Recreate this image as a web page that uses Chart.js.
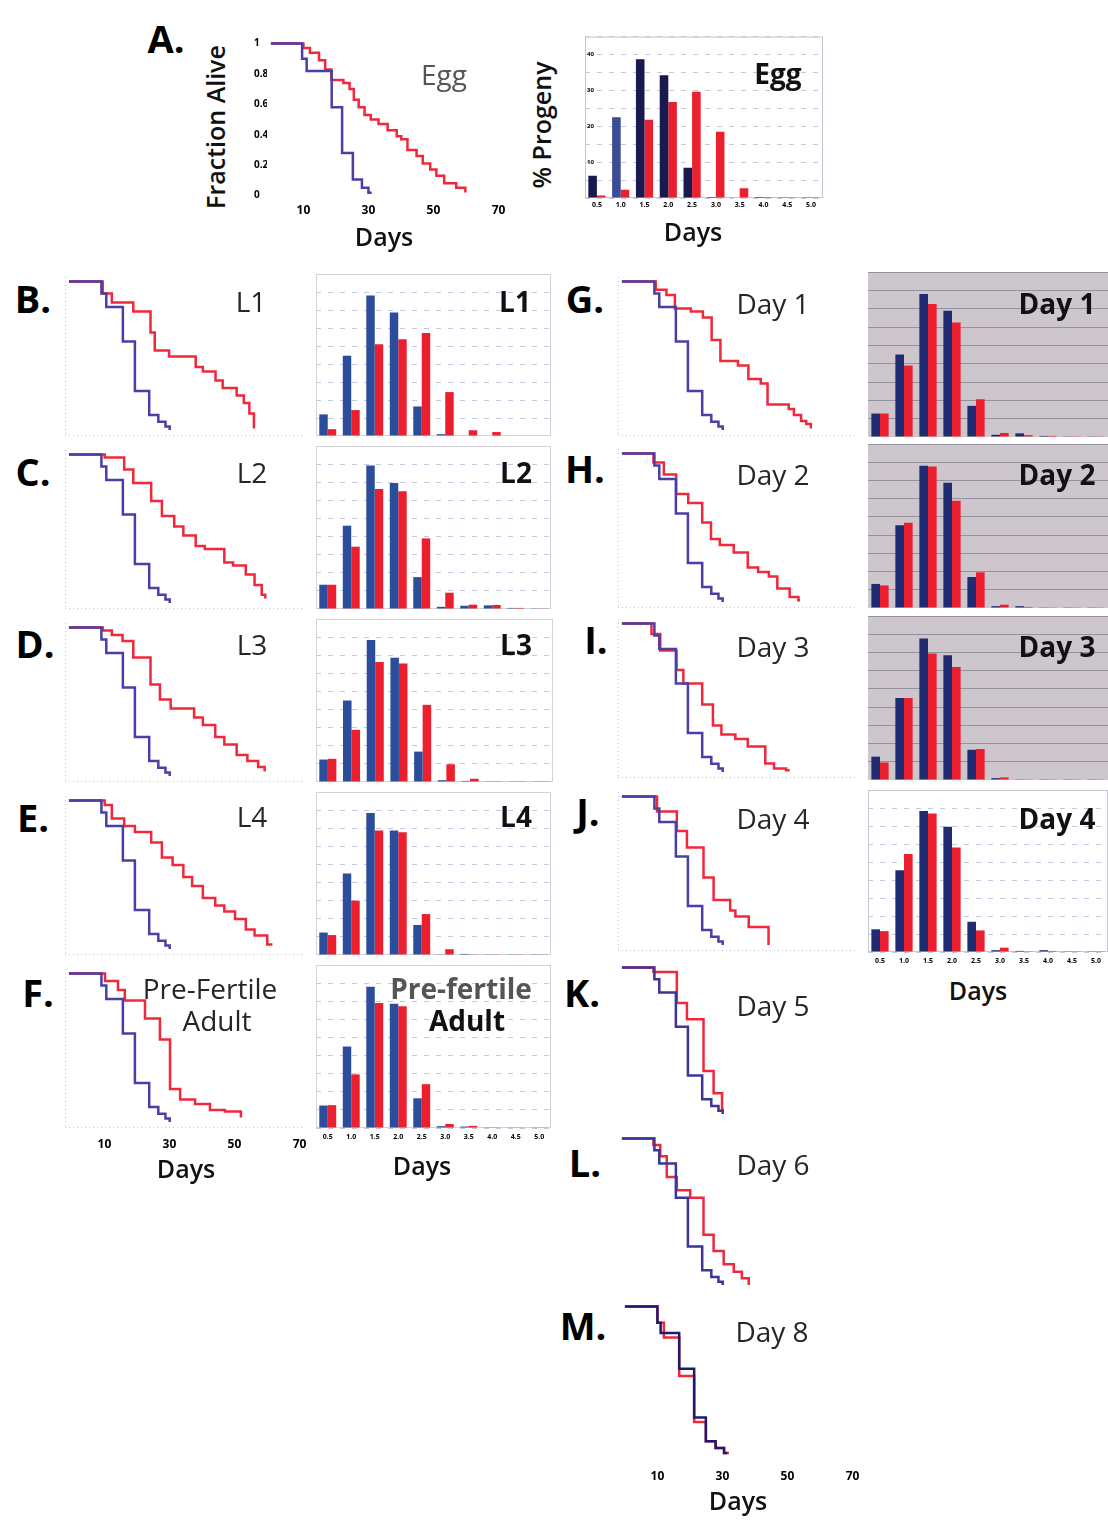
<!DOCTYPE html>
<html>
<head>
<meta charset="utf-8">
<title>Supervivencia y progenie</title>
<script src="https://cdn.jsdelivr.net/npm/chart.js@4.4.1/dist/chart.umd.min.js"></script>
<style>
  body { margin: 0; background: #fff; }
  #fig { position: relative; width: 1108px; height: 1524px; overflow: hidden; font-family: 'Open Sans', sans-serif; }
  #fig canvas { position: absolute; }
  .txt { position: absolute; white-space: nowrap; line-height: 1; transform: translate(-50%, -50%); }
  .letra { font-size: 38px; font-weight: 700; color: #000; }
  .tit { font-size: 28px; color: #262626; }
  .titb { font-size: 28px; font-weight: 700; color: #111; }
  .gris { color: #555; }
  .eje { font-size: 25px; font-weight: 600; color: #111; }
  .rot { transform: translate(-50%, -50%) rotate(-90deg); }
</style>
</head>
<body>
<div id="fig"></div>
<script>
// ---- datos ----
var cats = ['0.5', '1.0', '1.5', '2.0', '2.5', '3.0', '3.5', '4.0', '4.5', '5.0'];
var dayTicks = [10, 30, 50, 70];
var fracTicks = [0, 0.2, 0.4, 0.6, 0.8, 1];
var progenyTicks = [10, 20, 30, 40];

// curvas de supervivencia: dia de cada escalon y fraccion viva despues de el
var eggBlueDays = [0, 9.6, 11, 18.7, 21.9, 25.2, 28, 30, 31];
var eggBlueFrac = [1, 0.9, 0.82, 0.58, 0.28, 0.105, 0.05, 0.018, 0.018];
var eggRedDays = [0, 10, 12, 14.8, 16.7, 18.6, 22.3, 24.2, 25.5, 27, 28.8, 30.7, 33.1, 35.9, 38.7, 40.1, 42, 44.8, 46.7, 49, 50.9, 53.3, 57, 59.8];
var eggRedFrac = [1, 0.97, 0.94, 0.89, 0.83, 0.76, 0.74, 0.7, 0.63, 0.58, 0.53, 0.5, 0.47, 0.43, 0.39, 0.37, 0.3, 0.26, 0.21, 0.17, 0.13, 0.08, 0.05, 0.02];

var ctlDays = [0, 10, 11.5, 16.6, 20.3, 24.7, 27.5, 29.7, 31];
var ctlFrac = [1, 0.92, 0.83, 0.6, 0.27, 0.11, 0.065, 0.033, 0.01];

var l1RedDays = [0, 10.4, 13.2, 19.8, 25.1, 26.4, 30.8, 39, 41.2, 45.1, 47.3, 51.6, 53.8, 55.5, 56.9];
var l1RedFrac = [1, 0.92, 0.86, 0.8, 0.66, 0.54, 0.5, 0.43, 0.4, 0.34, 0.29, 0.24, 0.19, 0.12, 0.02];
var l2RedDays = [0, 11, 17, 19.8, 25.3, 28.6, 32.4, 35.2, 39, 41.8, 47.8, 50.5, 54.4, 57.1, 59.3, 60.4];
var l2RedFrac = [1, 0.98, 0.9, 0.81, 0.69, 0.59, 0.52, 0.46, 0.39, 0.37, 0.28, 0.26, 0.2, 0.13, 0.065, 0.04];
var l3RedDays = [0, 10.4, 13.2, 16.5, 19.8, 25.1, 28, 31.3, 38.5, 41.2, 45, 47.8, 51.6, 54.9, 58.2, 60.2];
var l3RedFrac = [1, 0.98, 0.95, 0.91, 0.8, 0.62, 0.52, 0.46, 0.4, 0.35, 0.27, 0.22, 0.15, 0.11, 0.07, 0.04];
var l4RedDays = [0, 11, 13.2, 17, 20.3, 25.3, 28.6, 31.9, 35.2, 37.9, 41.2, 45, 47.8, 51.1, 54.4, 57.1, 61, 62.6];
var l4RedFrac = [1, 0.97, 0.88, 0.83, 0.79, 0.72, 0.62, 0.57, 0.49, 0.43, 0.35, 0.3, 0.26, 0.21, 0.14, 0.1, 0.04, 0.04];
var pfRedDays = [0, 11.1, 15.1, 17.2, 23.4, 28, 31.1, 34.2, 38.8, 43.4, 48, 52.9];
var pfRedFrac = [1, 0.95, 0.89, 0.82, 0.7, 0.56, 0.23, 0.16, 0.13, 0.09, 0.08, 0.04];

var d1RedDays = [0, 10.4, 13.7, 16.3, 21.2, 24.9, 27.6, 30.3, 35.7, 38.9, 42.7, 44.8, 51.3, 52.9, 55.1, 56.7, 58.1];
var d1RedFrac = [1, 0.945, 0.91, 0.82, 0.8, 0.76, 0.61, 0.47, 0.44, 0.35, 0.32, 0.18, 0.15, 0.11, 0.07, 0.05, 0.02];
var d2RedDays = [0, 9.7, 12.9, 16.7, 20.4, 24.7, 27.4, 30.1, 34.4, 38.7, 41.9, 45.2, 47.8, 51.6, 54.3, 54.8];
var d2RedFrac = [1, 0.94, 0.86, 0.73, 0.67, 0.54, 0.43, 0.39, 0.34, 0.24, 0.21, 0.18, 0.1, 0.044, 0.022, 0.022];
var d3RedDays = [0, 9.1, 11.8, 16.8, 18.9, 24.7, 28, 30.6, 34.9, 38.7, 44.1, 46.8, 50.5, 51.6];
var d3RedFrac = [1, 0.93, 0.82, 0.69, 0.6, 0.46, 0.32, 0.26, 0.23, 0.18, 0.066, 0.033, 0.022, 0.022];
var d4RedDays = [0, 10.8, 16.9, 20, 25.1, 28.2, 33.3, 34.9, 39, 45.1];
var d4RedFrac = [1, 0.9, 0.77, 0.66, 0.46, 0.31, 0.24, 0.2, 0.13, 0.01];
var d5RedDays = [0, 9.7, 16.9, 20, 25.1, 28.2, 30.8, 31.3];
var d5RedFrac = [1, 0.97, 0.76, 0.65, 0.3, 0.15, 0.045, 0.045];
var d6RedDays = [0, 9.7, 11.8, 13.8, 16.9, 21, 25.1, 28.2, 31.3, 34.4, 36.9, 39];
var d6RedFrac = [1, 0.955, 0.88, 0.74, 0.65, 0.6, 0.35, 0.24, 0.15, 0.1, 0.056, 0.011];
var d8BlueDays = [0, 10, 11, 16.7, 21.3, 24.9, 27.9, 30.5, 31.5];
var d8BlueFrac = [1, 0.89, 0.82, 0.58, 0.25, 0.09, 0.045, 0.01, 0.01];
var d8RedDays = [0, 10, 12, 16.7, 21.3, 24.9, 27.9, 30.5, 32];
var d8RedFrac = [1, 0.89, 0.79, 0.53, 0.22, 0.09, 0.045, 0.01, 0.01];

// % progenie por dia de puesta
var eggBlueBars = [6.2, 22.5, 38.7, 34.2, 8.4, 0.3, 0, 0.3, 0.1, 0.1];
var eggRedBars = [0.7, 2.3, 21.8, 26.8, 29.6, 18.5, 2.7, 0.3, 0.1, 0.1];
var l1BlueBars = [6.0, 22.3, 39, 34.3, 8.2, 0.5, 0, 0, 0, 0];
var l1RedBars = [1.9, 7.2, 25.5, 26.9, 28.6, 12.2, 1.6, 1.1, 0, 0];
var l2BlueBars = [6.7, 23, 39.6, 34.8, 8.8, 0.6, 0.9, 1, 0.3, 0.2];
var l2RedBars = [6.7, 17.2, 33.1, 32.5, 19.5, 4.5, 1.2, 1.1, 0.3, 0.2];
var l3BlueBars = [6.2, 22.5, 39.2, 34.3, 8.4, 0.5, 0.3, 0.2, 0.2, 0.2];
var l3RedBars = [6.4, 14.4, 33.1, 32.7, 21.3, 4.9, 0.9, 0.2, 0.2, 0.2];
var l4BlueBars = [6.2, 22.5, 39.2, 34.4, 8.3, 0.2, 0.3, 0.2, 0.2, 0.2];
var l4RedBars = [5.5, 15, 34.4, 33.9, 11.3, 1.6, 0.2, 0.2, 0.2, 0.2];
var pfBlueBars = [6.2, 22.5, 39, 34.3, 8.2, 0.5, 0.4, 0.2, 0.1, 0.1];
var pfRedBars = [6.3, 14.8, 34.5, 33.6, 12.1, 1.1, 0.6, 0.2, 0.1, 0.1];
var d1BlueBars = [6.4, 22.5, 39, 34.4, 8.5, 0.6, 1, 0.3, 0.2, 0.2];
var d1RedBars = [6.4, 19.5, 36.3, 31.2, 10.3, 1.1, 0.5, 0.3, 0.2, 0.2];
var d2BlueBars = [6.6, 22.7, 39, 34.4, 8.5, 0.5, 0.5, 0.2, 0.2, 0.2];
var d2RedBars = [6.2, 23.4, 38.8, 29.4, 9.8, 0.9, 0.3, 0.2, 0.2, 0.2];
var d3BlueBars = [6.4, 22.5, 38.8, 34.2, 8.3, 0.5, 0.2, 0.2, 0.2, 0.2];
var d3RedBars = [4.8, 22.5, 34.7, 31, 8.5, 0.7, 0.2, 0.2, 0.2, 0.2];
var d4BlueBars = [6.3, 22.7, 39.2, 34.8, 8.4, 0.5, 0.3, 0.5, 0.2, 0.2];
var d4RedBars = [5.8, 27.2, 38.5, 29, 6, 1.2, 0.2, 0.3, 0.2, 0.2];

// ---- colores ----
var azulLinea = '#4a3fa6';
var rojoLinea = '#f0283c';
var rojoBarra = '#ec1f2e';

Chart.defaults.font.family = "'Open Sans', sans-serif";
Chart.defaults.color = '#000';

var fig = document.getElementById('fig');

function lienzo(left, top, w, h) {
    var c = document.createElement('canvas');
    c.width = w;
    c.height = h;
    c.style.left = left + 'px';
    c.style.top = top + 'px';
    c.style.width = w + 'px';
    c.style.height = h + 'px';
    fig.appendChild(c);
    return c;
}

function puntos(days, frac) {
    return days.map(function (d, i) { return { x: d, y: frac[i] }; });
}

// fondo y marco del area del grafico
var marco = {
    id: 'marco',
    beforeDraw: function (chart, args, o) {
        var a = chart.chartArea, ctx = chart.ctx;
        if (o.bg) {
            ctx.save();
            ctx.fillStyle = o.bg;
            ctx.fillRect(a.left, a.top, a.right - a.left, a.bottom - a.top);
            ctx.restore();
        }
    },
    beforeDatasetsDraw: function (chart, args, o) {
        if (!o.lados) return;
        var a = chart.chartArea, ctx = chart.ctx;
        ctx.save();
        ctx.strokeStyle = o.color;
        ctx.lineWidth = 1;
        ctx.setLineDash(o.dash || []);
        ctx.beginPath();
        if (o.lados.indexOf('l') >= 0) { ctx.moveTo(a.left + 0.5, a.top); ctx.lineTo(a.left + 0.5, a.bottom); }
        if (o.lados.indexOf('b') >= 0) { ctx.moveTo(a.left, a.bottom - 0.5); ctx.lineTo(a.right, a.bottom - 0.5); }
        if (o.lados.indexOf('t') >= 0) { ctx.moveTo(a.left, a.top + 0.5); ctx.lineTo(a.right, a.top + 0.5); }
        if (o.lados.indexOf('r') >= 0) { ctx.moveTo(a.right - 0.5, a.top); ctx.lineTo(a.right - 0.5, a.bottom); }
        ctx.stroke();
        ctx.restore();
    }
};

// grafico de supervivencia (lineas escalonadas)
function supervivencia(p) {
    var xmin = -1.2, xmax = 72, ymin = -0.03, ymax = 1.03;
    var unit = p.unit || 150;
    var areaW = Math.round((xmax - xmin) * 3.25);
    var areaH = Math.round((ymax - ymin) * unit);
    var padT = 8, padR = 12;
    var yW = p.yTicks ? 13 : 0;
    var xH = p.xTicks ? 30 : 0;
    var left = Math.round(p.x0 + xmin * 3.25 - yW);
    var top = Math.round(p.y1 - (ymax - 1) * unit - padT);
    var c = lienzo(left, top, yW + areaW + padR, padT + areaH + xH);

    new Chart(c, {
        type: 'line',
        data: {
            datasets: [
                { data: puntos(p.blue[0], p.blue[1]), borderColor: p.blueColor || azulLinea },
                { data: puntos(p.red[0], p.red[1]), borderColor: rojoLinea }
            ]
        },
        options: {
            responsive: false,
            animation: false,
            events: [],
            layout: { padding: { top: padT, right: padR, left: 0, bottom: 0 } },
            elements: {
                point: { radius: 0 },
                line: { borderWidth: 2.5, stepped: 'before', tension: 0, fill: false, borderJoinStyle: 'miter' }
            },
            plugins: {
                legend: { display: false },
                tooltip: { enabled: false },
                marco: p.frame ? { lados: 'lb', color: 'rgba(150,150,150,0.55)', dash: [1, 3] } : {}
            },
            scales: {
                x: {
                    type: 'linear', min: xmin, max: xmax,
                    grid: { display: false, drawTicks: false },
                    border: { display: false },
                    ticks: { display: !!p.xTicks, padding: p.xPad || 4, labelOffset: p.xShift || 0,
                        maxRotation: 0, autoSkip: false, font: { size: 12, weight: 'bold' } },
                    afterBuildTicks: function (ax) { ax.ticks = dayTicks.map(function (v) { return { value: v }; }); },
                    afterFit: function (ax) { ax.height = xH; }
                },
                y: {
                    type: 'linear', min: ymin, max: ymax,
                    grid: { display: false, drawTicks: false },
                    border: { display: false },
                    ticks: { display: !!p.yTicks, padding: 0, crossAlign: 'far',
                        font: { size: 10, weight: 'bold' },
                        callback: function (v) { return v === 0 ? '0' : v === 1 ? '1' : v.toFixed(1); } },
                    afterBuildTicks: function (ax) { ax.ticks = fracTicks.map(function (v) { return { value: v }; }); },
                    afterFit: function (ax) { ax.width = yW; }
                }
            }
        },
        plugins: [marco]
    });
}

// grafico de barras de % progenie
function progenie(p) {
    var areaW = p.right - p.left, areaH = p.bottom - p.top;
    var xH = p.xTicks ? 16 : 0;
    var padT = 4, padR = 2;
    var c = lienzo(p.left, p.top - padT, areaW + padR, padT + areaH + xH);

    new Chart(c, {
        type: 'bar',
        data: {
            labels: cats,
            datasets: [
                { data: p.blue, backgroundColor: p.blueColor },
                { data: p.red, backgroundColor: rojoBarra }
            ]
        },
        options: {
            responsive: false,
            animation: false,
            events: [],
            layout: { padding: { top: padT, right: padR, left: 0, bottom: 0 } },
            datasets: { bar: { categoryPercentage: 0.72, barPercentage: 1, borderWidth: 0 } },
            plugins: {
                legend: { display: false },
                tooltip: { enabled: false },
                marco: { bg: p.bg, lados: p.lados, color: p.frameColor }
            },
            scales: {
                x: {
                    grid: { display: false, drawTicks: false },
                    border: { display: false },
                    ticks: { display: !!p.xTicks, padding: p.xPad || 4, maxRotation: 0, autoSkip: false,
                        font: { size: 7, weight: 'bold' } },
                    afterFit: function (ax) { ax.height = xH; }
                },
                y: {
                    min: 0, max: 45,
                    grid: { color: p.gridColor, lineWidth: 1, drawTicks: false },
                    border: { display: false, dash: p.dash || [] },
                    ticks: { stepSize: 5, display: !!p.yTicks, mirror: true, padding: 2,
                        font: { size: 6, weight: 'bold' },
                        callback: function (v) { return progenyTicks.indexOf(v) >= 0 ? v : ''; } },
                    afterFit: function (ax) { ax.width = 0; }
                }
            }
        },
        plugins: [marco]
    });
}

// ---- paneles de supervivencia ----
supervivencia({ x0: 270.8, y1: 44, unit: 152, blue: [eggBlueDays, eggBlueFrac], red: [eggRedDays, eggRedFrac], yTicks: true, xTicks: true, xPad: 3 });

supervivencia({ x0: 69, y1: 281, blue: [ctlDays, ctlFrac], red: [l1RedDays, l1RedFrac], frame: true });
supervivencia({ x0: 69, y1: 454, blue: [ctlDays, ctlFrac], red: [l2RedDays, l2RedFrac], frame: true });
supervivencia({ x0: 69, y1: 627, blue: [ctlDays, ctlFrac], red: [l3RedDays, l3RedFrac], frame: true });
supervivencia({ x0: 69, y1: 800, blue: [ctlDays, ctlFrac], red: [l4RedDays, l4RedFrac], frame: true });
supervivencia({ x0: 69, y1: 973, blue: [ctlDays, ctlFrac], red: [pfRedDays, pfRedFrac], frame: true, xTicks: true, xPad: 9, xShift: 3 });

supervivencia({ x0: 622, y1: 281, blue: [ctlDays, ctlFrac], red: [d1RedDays, d1RedFrac], frame: true });
supervivencia({ x0: 622, y1: 453, blue: [ctlDays, ctlFrac], red: [d2RedDays, d2RedFrac], frame: true });
supervivencia({ x0: 622, y1: 623, blue: [ctlDays, ctlFrac], red: [d3RedDays, d3RedFrac], frame: true });
supervivencia({ x0: 622, y1: 796, blue: [ctlDays, ctlFrac], red: [d4RedDays, d4RedFrac], frame: true });
supervivencia({ x0: 622, y1: 967, unit: 148, blue: [ctlDays, ctlFrac], red: [d5RedDays, d5RedFrac], blueColor: '#3b3596' });
supervivencia({ x0: 622, y1: 1138, unit: 148, blue: [ctlDays, ctlFrac], red: [d6RedDays, d6RedFrac], blueColor: '#3b3596' });
supervivencia({ x0: 625, y1: 1306, unit: 148, blue: [d8BlueDays, d8BlueFrac], red: [d8RedDays, d8RedFrac], blueColor: '#1e1b6e', xTicks: true, xPad: 10 });

// ---- paneles de barras ----
var azulA = ['#17194f', '#3a4c93', '#17194f', '#17194f', '#17194f', '#17194f', '#17194f', '#17194f', '#17194f', '#17194f'];
var gridPunteado = 'rgba(120,130,190,0.45)';

progenie({ left: 585, top: 35, right: 823, bottom: 198, blue: eggBlueBars, red: eggRedBars, blueColor: azulA,
    gridColor: gridPunteado, dash: [5, 7], lados: 'lbtr', frameColor: '#c4c4d2', xTicks: true, xPad: 3, yTicks: true });

progenie({ left: 316, top: 274, right: 551, bottom: 436, blue: l1BlueBars, red: l1RedBars, blueColor: '#2c4d9c',
    gridColor: gridPunteado, dash: [5, 7], lados: 'lbtr', frameColor: '#d2d2dc' });
progenie({ left: 316, top: 446, right: 551, bottom: 609, blue: l2BlueBars, red: l2RedBars, blueColor: '#2c4d9c',
    gridColor: gridPunteado, dash: [5, 7], lados: 'lbtr', frameColor: '#d2d2dc' });
progenie({ left: 316, top: 619, right: 553, bottom: 782, blue: l3BlueBars, red: l3RedBars, blueColor: '#2c4d9c',
    gridColor: gridPunteado, dash: [5, 7], lados: 'lbtr', frameColor: '#d2d2dc' });
progenie({ left: 316, top: 792, right: 551, bottom: 955, blue: l4BlueBars, red: l4RedBars, blueColor: '#2c4d9c',
    gridColor: gridPunteado, dash: [5, 7], lados: 'lbtr', frameColor: '#d2d2dc' });
progenie({ left: 316, top: 965, right: 551, bottom: 1128, blue: pfBlueBars, red: pfRedBars, blueColor: '#2c4d9c',
    gridColor: gridPunteado, dash: [5, 7], lados: 'lbtr', frameColor: '#d2d2dc', xTicks: true, xPad: 5 });

progenie({ left: 868, top: 272, right: 1108, bottom: 437, blue: d1BlueBars, red: d1RedBars, blueColor: '#1f2c72',
    gridColor: '#94929e', bg: '#cec6cd' });
progenie({ left: 868, top: 444, right: 1108, bottom: 608, blue: d2BlueBars, red: d2RedBars, blueColor: '#1f2c72',
    gridColor: '#94929e', bg: '#cec6cd' });
progenie({ left: 868, top: 616, right: 1108, bottom: 780, blue: d3BlueBars, red: d3RedBars, blueColor: '#1f2c72',
    gridColor: '#94929e', bg: '#cec6cd' });
progenie({ left: 868, top: 790, right: 1108, bottom: 952, blue: d4BlueBars, red: d4RedBars, blueColor: '#1f2c72',
    gridColor: gridPunteado, dash: [5, 7], lados: 'lbtr', frameColor: '#c8c8d4', xTicks: true, xPad: 5 });

// ---- textos ----
var textos = [
    ['A.', 166, 38, 'letra'], ['B.', 33, 298, 'letra'], ['C.', 33, 471, 'letra'], ['D.', 35, 643, 'letra'],
    ['E.', 33, 817, 'letra'], ['F.', 38, 992, 'letra'],
    ['G.', 585, 298, 'letra'], ['H.', 585, 468, 'letra'], ['I.', 596, 639, 'letra'], ['J.', 588, 811, 'letra'],
    ['K.', 582, 992, 'letra'], ['L.', 585, 1162, 'letra'], ['M.', 583, 1325, 'letra'],
    ['Egg', 444, 74, 'tit gris'], ['Egg', 778, 73, 'titb'],
    ['L1', 251, 301, 'tit'], ['L1', 515, 301, 'titb'],
    ['L2', 252, 472, 'tit'], ['L2', 516, 472, 'titb'],
    ['L3', 252, 644, 'tit'], ['L3', 516, 644, 'titb'],
    ['L4', 252, 816, 'tit'], ['L4', 516, 816, 'titb'],
    ['Pre-Fertile', 210, 988, 'tit'], ['Adult', 217, 1020, 'tit'],
    ['Pre-fertile', 461, 988, 'titb gris'], ['Adult', 467, 1020, 'titb'],
    ['Day 1', 773, 303, 'tit'], ['Day 1', 1057, 303, 'titb'],
    ['Day 2', 773, 474, 'tit'], ['Day 2', 1057, 474, 'titb'],
    ['Day 3', 773, 646, 'tit'], ['Day 3', 1057, 646, 'titb'],
    ['Day 4', 773, 818, 'tit'], ['Day 4', 1057, 818, 'titb'],
    ['Day 5', 773, 1005, 'tit'], ['Day 6', 773, 1164, 'tit'], ['Day 8', 772, 1331, 'tit'],
    ['Days', 384, 236, 'eje'], ['Days', 693, 231, 'eje'], ['Days', 186, 1168, 'eje'],
    ['Days', 422, 1165, 'eje'], ['Days', 978, 990, 'eje'], ['Days', 738, 1500, 'eje'],
    ['Fraction Alive', 215, 127, 'eje rot'], ['% Progeny', 541, 125, 'eje rot']
];

textos.forEach(function (t) {
    var d = document.createElement('div');
    d.className = 'txt ' + t[3];
    d.textContent = t[0];
    d.style.left = t[1] + 'px';
    d.style.top = t[2] + 'px';
    fig.appendChild(d);
});
</script>
</body>
</html>
